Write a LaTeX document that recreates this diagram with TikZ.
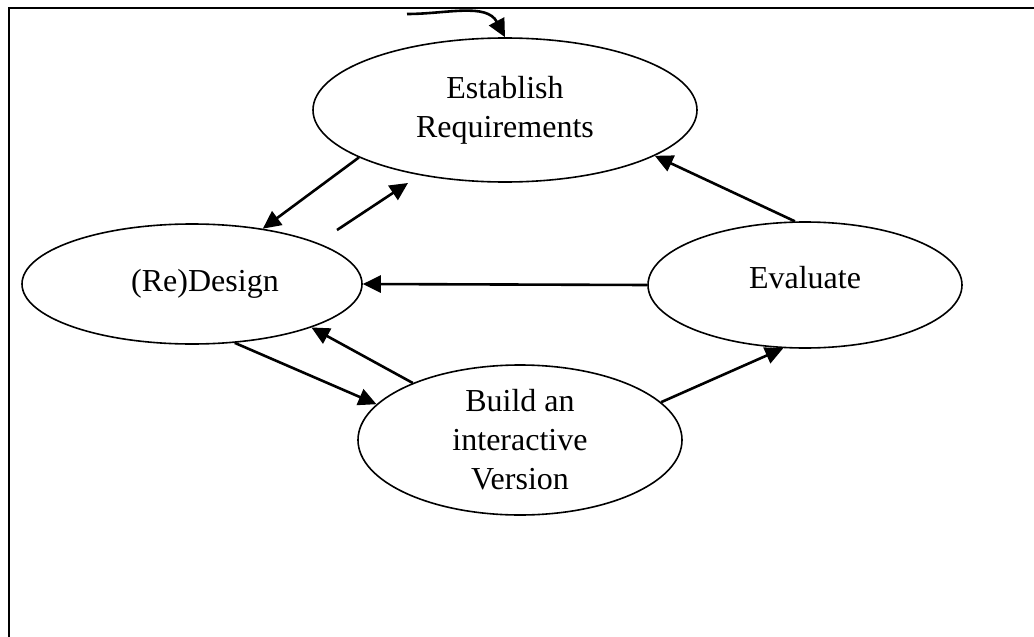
\documentclass[tikz,border=0pt]{standalone}
\usepackage{fontspec}
\setmainfont{Liberation Serif}
\usetikzlibrary{arrows.meta,shapes}

\begin{document}
\begin{tikzpicture}[x=0.5pt,y=-0.5pt]
                    \tikzstyle{stage}=[draw=black, line width=0.8pt, ellipse, inner sep=0pt, align=center, font=\fontsize{16}{19.5}\selectfont]
                    \tikzstyle{flow}=[black, line width=1.3pt, -{Triangle[length=9pt,width=8.5pt]}]
                    \useasboundingbox (0,0) rectangle (1034,637);
                    \draw [black, line width=1.2pt] (1034,8) -- (9,8) -- (9,637);
                    \node [stage, minimum width=192pt, minimum height=72pt] (req) at (505,110) {Establish\\Requirements};
                    \node [stage, minimum width=170pt, minimum height=60pt, text depth=4pt] (des) at (192,284) {\hspace*{13pt}(Re)Design};
                    \node [stage, minimum width=157pt, minimum height=63pt, text depth=8pt] (eva) at (805,285) {Evaluate};
                    \node [stage, minimum width=162pt, minimum height=75pt] (bld) at (520,440) {Build an\\interactive\\Version};
                    \coordinate (entry) at (407,14);
                    \coordinate (redo) at (337,230);
                    \coordinate (redoend) at (408,183);
                    \draw [flow] (entry) to[out=0, in=118] (req.north);
                    \draw [flow] (req.198) -- (des.38);
                    \draw [flow] (redo) -- (redoend);
                    \draw [flow] (eva.99) -- (req.343);
                    \draw [flow] (eva.west) -- (des.east);
                    \draw [flow] (bld.152) -- (des.340);
                    \draw [flow] (des.306) -- (bld.166);
                    \draw [flow] (bld.15) -- (eva.251);
                \end{tikzpicture}
\end{document}
